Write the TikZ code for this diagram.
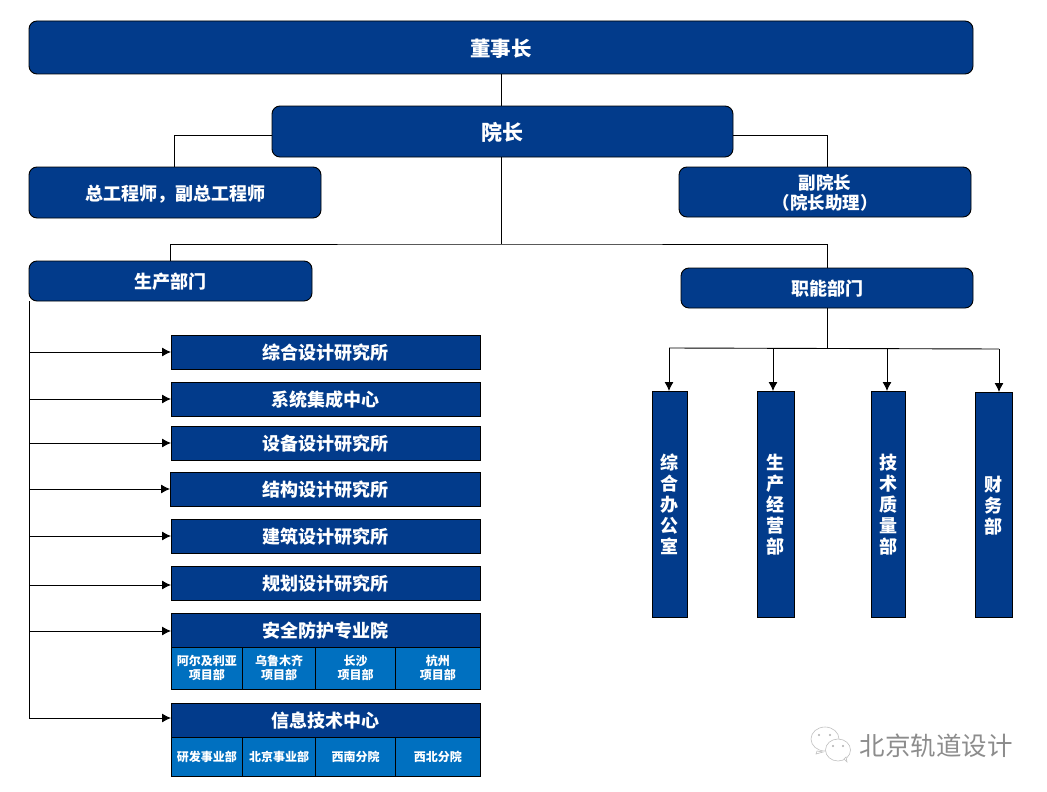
\documentclass[tikz,border=0pt]{standalone}
\usepackage{fontspec}
\setmainfont{Noto Sans CJK SC}
\usetikzlibrary{arrows.meta}
\definecolor{deepblue}{HTML}{023B8B}
\definecolor{midblue}{HTML}{0070C0}
\definecolor{markgray}{HTML}{8C8C8C}
\tikzset{
  roundbox/.style={draw=black, fill=deepblue, text=white, rounded corners=8pt, line width=0.9pt,
    inner sep=0pt, outer sep=0pt, align=center, text depth=0pt, font=\fontsize{18}{21}\selectfont\bfseries},
  listbox/.style={draw=black, fill=deepblue, text=white, line width=0.9pt, inner sep=0pt, outer sep=0pt,
    align=center, text depth=0pt, minimum width=309pt, minimum height=34pt, font=\fontsize{18}{21}\selectfont\bfseries},
  subbox/.style={draw=black, fill=midblue, text=white, line width=0.9pt, inner sep=0pt, outer sep=0pt,
    align=center, font=\fontsize{12}{14}\selectfont\bfseries},
  tallbox/.style={draw=black, fill=deepblue, text=white, line width=0.9pt, inner sep=0pt, outer sep=0pt,
    align=center, text depth=0pt, minimum height=226pt, font=\fontsize{18}{21}\selectfont\bfseries},
  link/.style={black, line width=0.9pt},
  linkarrow/.style={link, -{Latex[length=9pt,width=9pt]}}
}

\begin{document}
\begin{tikzpicture}[x=1pt, y=-1pt]

\useasboundingbox (0,0) rectangle (1047,792);

% Top of the chart
\node[roundbox, minimum width=944pt, minimum height=53pt, font=\fontsize{20.5}{24}\selectfont\bfseries] (chairman) at (501,47.5) {董事长};
\node[roundbox, minimum width=461pt, minimum height=51pt, font=\fontsize{21}{24}\selectfont\bfseries] (president) at (502.5,131.5) {院长};
\node[roundbox, minimum width=292pt, minimum height=51pt] (engineer) at (175,192.5) {总工程师，副总工程师};
\node[roundbox, minimum width=292pt, minimum height=50pt, font=\fontsize{17.5}{20}\selectfont\bfseries] (vice) at (825,192) {副院长\\（院长助理）};
\node[roundbox, minimum width=283pt, minimum height=40pt] (production) at (170.5,281) {生产部门};
\node[roundbox, minimum width=292pt, minimum height=40pt] (function) at (827,288) {职能部门};

% Left list
\node[listbox] (design) at (325.5,352) {综合设计研究所};
\node[listbox] (system) at (325.5,399) {系统集成中心};
\node[listbox] (equipment) at (325.5,443) {设备设计研究所};
\node[listbox, minimum width=310pt] (structure) at (325,489) {结构设计研究所};
\node[listbox] (building) at (325.5,536) {建筑设计研究所};
\node[listbox] (planning) at (325.5,583) {规划设计研究所};
\node[listbox] (safety) at (325.5,630) {安全防护专业院};
\node[listbox] (info) at (325.5,720) {信息技术中心};

% Project departments
\node[subbox, minimum width=71.5pt, minimum height=42pt] (safetya) at (206.75,668) {阿尔及利亚\\项目部};
\node[subbox, minimum width=73pt, minimum height=42pt] (safetyb) at (279,668) {乌鲁木齐\\项目部};
\node[subbox, minimum width=80pt, minimum height=42pt] (safetyc) at (355.5,668) {长沙\\项目部};
\node[subbox, minimum width=84.5pt, minimum height=42pt] (safetyd) at (437.75,668) {杭州\\项目部};
\node[subbox, minimum width=71.5pt, minimum height=39pt] (infoa) at (206.75,756.5) {研发事业部};
\node[subbox, minimum width=73pt, minimum height=39pt] (infob) at (279,756.5) {北京事业部};
\node[subbox, minimum width=80pt, minimum height=39pt] (infoc) at (355.5,756.5) {西南分院};
\node[subbox, minimum width=84.5pt, minimum height=39pt] (infod) at (437.75,756.5) {西北分院};

% Right column
\node[tallbox, minimum width=35pt] (office) at (669.5,504) {综\\合\\办\\公\\室};
\node[tallbox, minimum width=37pt] (business) at (775.5,504) {生\\产\\经\\营\\部};
\node[tallbox, minimum width=34pt] (quality) at (888,504) {技\\术\\质\\量\\部};
\node[tallbox, minimum width=37pt, minimum height=225pt] (finance) at (993.5,504.5) {财\\务\\部};

% Connectors from the president
\coordinate (fork) at (501,244);
\coordinate (rail) at (827,348);
\draw[link] (chairman.south) -- (chairman.south |- president.north);
\draw[link] ([yshift=-3.5pt]president.west) -| ([xshift=-1pt]engineer.north);
\draw[link] ([yshift=-3.5pt]president.east) -| ([xshift=2pt]vice.north);
\draw[link] (fork |- president.south) -- (fork);
\draw[link] (production.north) |- (fork) -| (function.north);

% Production arrows
\draw[link] (production.south west) -- ([yshift=2pt]production.south west |- info.west);
\draw[linkarrow] (production.south west |- design.west) -- (design.west);
\draw[linkarrow] (production.south west |- system.west) -- (system.west);
\draw[linkarrow] (production.south west |- equipment.west) -- (equipment.west);
\draw[linkarrow] (production.south west |- structure.west) -- (structure.west);
\draw[linkarrow] (production.south west |- building.west) -- (building.west);
\draw[linkarrow] ([yshift=-2pt]production.south west |- planning.west) -- ([yshift=-2pt]planning.west);
\draw[linkarrow] ([yshift=-1pt]production.south west |- safety.west) -- ([yshift=-1pt]safety.west);
\draw[linkarrow] ([yshift=2pt]production.south west |- info.west) -- ([yshift=2pt]info.west);

% Function arrows
\draw[link] (function.south) -- (rail);
\draw[link] ([xshift=-0.5pt]office.north |- rail) -- ([xshift=5.5pt,yshift=-1pt]finance.north |- rail);
\draw[linkarrow] ([xshift=-0.5pt]office.north |- rail) -- ([xshift=-0.5pt]office.north);
\draw[linkarrow] ([xshift=-2.5pt]business.north |- rail) -- ([xshift=-2.5pt]business.north);
\draw[linkarrow] ([xshift=-1pt]quality.north |- rail) -- ([xshift=-1pt]quality.north);
\draw[linkarrow] ([xshift=5.5pt,yshift=-1pt]finance.north |- rail) -- ([xshift=5.5pt]finance.north);

% Watermark
\begin{scope}[draw=markgray!55, line width=0.6pt, fill=white]
    \filldraw (825,739) ellipse (14pt and 12pt);
    \filldraw (817,751) -- (816,754) -- (823,752) -- cycle;
    \fill[markgray!70] (819,735) circle (1.2pt) (830,735) circle (1.2pt);
    \filldraw (838,750) ellipse (12.5pt and 11pt);
    \filldraw (844,759) -- (847,762) -- (846,757) -- cycle;
    \fill[markgray!70] (833,746) circle (1.2pt) (843,746) circle (1.2pt);
\end{scope}
\node[text=markgray, font=\fontsize{25.5}{28}\selectfont, inner sep=0pt] (mark) at (936,746) {北京轨道设计};

\end{tikzpicture}
\end{document}
